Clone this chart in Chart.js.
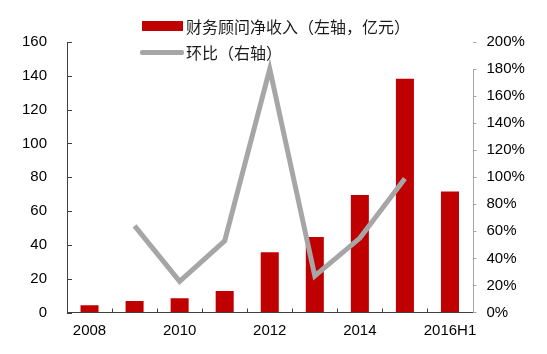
<!DOCTYPE html>
<html>
<head>
<meta charset="utf-8">
<script src="https://cdn.jsdelivr.net/npm/chart.js@4/dist/chart.umd.min.js"></script>
<style>
  html, body { margin: 0; padding: 0; background: #fff; }
  #wrap { position: relative; width: 547px; height: 354px; }
  #legend { position: absolute; left: 140px; top: 13px; font-family: "Noto Sans CJK SC", sans-serif; font-size: 16px; color: #1a1a1a; }
  .item { position: relative; height: 26px; line-height: 26px; white-space: nowrap; }
  .sw { position: absolute; left: 2px; }
  .txt { position: absolute; left: 46px; top: 0; }
</style>
</head>
<body>
<div id="wrap">
  <canvas id="c" width="547" height="354"></canvas>
  <div id="legend"></div>
</div>
<script>
const categories = ['2008', '2009', '2010', '2011', '2012', '2013', '2014', '2015', '2016H1'];
const advisoryIncome = [4.3, 6.8, 8.4, 12.7, 35.7, 44.7, 69.5, 138.2, 71.6];
const growthPct = [null, 64, 23, 53, 180, 27, 55, 99, null];
const leftTicks = [0, 20, 40, 60, 80, 100, 120, 140, 160];
const rightTicks = [0, 20, 40, 60, 80, 100, 120, 140, 160, 180, 200];
const barLabel = '财务顾问净收入（左轴，亿元）';
const lineLabel = '环比（右轴）';

const BAR_COLOR = '#C00000';
const LINE_COLOR = '#A6A6A6';
const FONT = { family: '"Liberation Sans", Arial, sans-serif', size: 15 };

const innerTicks = {
  id: 'innerTicks',
  afterDraw(chart) {
    const ctx = chart.ctx;
    const a = chart.chartArea;
    const y = chart.scales.y, y1 = chart.scales.y1, x = chart.scales.x;
    ctx.save();
    ctx.lineWidth = 1;
    // left axis inward ticks
    ctx.strokeStyle = '#404040';
    y.ticks.forEach(t => {
      const py = Math.round(y.getPixelForValue(t.value)) + 0.5;
      ctx.beginPath(); ctx.moveTo(a.left, py); ctx.lineTo(a.left + 5, py); ctx.stroke();
    });
    // x axis inward ticks at category boundaries
    for (let i = 0; i < categories.length - 1; i++) {
      const px = Math.round((x.getPixelForValue(i) + x.getPixelForValue(i + 1)) / 2) + 0.5;
      ctx.beginPath(); ctx.moveTo(px, a.bottom); ctx.lineTo(px, a.bottom - 4); ctx.stroke();
    }
    // right axis line (from 180% down)
    ctx.strokeStyle = LINE_COLOR;
    const rx = Math.round(a.right) + 0.5;
    ctx.beginPath(); ctx.moveTo(rx, y1.getPixelForValue(180)); ctx.lineTo(rx, a.bottom); ctx.stroke();
    ctx.restore();
  }
};

const chart = new Chart(document.getElementById('c'), {
  type: 'bar',
  data: {
    labels: categories,
    datasets: [
      {
        type: 'line',
        label: lineLabel,
        data: growthPct,
        yAxisID: 'y1',
        borderColor: LINE_COLOR,
        backgroundColor: LINE_COLOR,
        borderWidth: 5,
        pointRadius: 0,
        tension: 0,
        borderJoinStyle: 'miter',
        order: 0
      },
      {
        type: 'bar',
        label: barLabel,
        data: advisoryIncome,
        yAxisID: 'y',
        backgroundColor: BAR_COLOR,
        categoryPercentage: 1,
        barPercentage: 0.4,
        order: 1
      }
    ]
  },
  options: {
    responsive: false,
    animation: false,
    layout: { padding: { top: 42, left: 0, right: 0, bottom: 0 } },
    plugins: { legend: { display: false }, tooltip: { enabled: false } },
    scales: {
      x: {
        offset: true,
        grid: { display: true, offset: true, drawOnChartArea: false, drawTicks: false },
        border: { display: true, color: '#404040', width: 1 },
        ticks: {
          autoSkip: false, maxRotation: 0, padding: 9, color: '#000', font: FONT,
          callback: (v, i) => (i % 2 === 0 ? categories[i] : '')
        },
        afterFit: s => { s.height = 41.5; }
      },
      y: {
        position: 'left',
        min: 0, max: 160,
        afterBuildTicks: s => { s.ticks = leftTicks.map(v => ({ value: v })); },
        grid: { drawOnChartArea: false, drawTicks: false },
        border: { display: true, color: '#404040', width: 1 },
        ticks: { padding: 20, color: '#000', font: FONT },
        afterFit: s => { s.width = 67; }
      },
      y1: {
        position: 'right',
        min: 0, max: 200,
        afterBuildTicks: s => { s.ticks = rightTicks.map(v => ({ value: v })); },
        grid: { drawOnChartArea: false, drawTicks: true, tickLength: 4, color: LINE_COLOR },
        border: { display: false },
        ticks: { padding: 10, color: '#000', font: FONT, callback: v => v + '%' },
        afterFit: s => { s.width = 74.5; }
      }
    }
  },
  plugins: [innerTicks]
});

// HTML legend built from the datasets (bar first, then line)
const legend = document.getElementById('legend');
[chart.data.datasets[1], chart.data.datasets[0]].forEach(ds => {
  const item = document.createElement('div');
  item.className = 'item';
  const sw = document.createElement('span');
  sw.className = 'sw';
  if (ds.type === 'bar') {
    sw.style.cssText = 'top:8px;width:41px;height:10px;background:' + ds.backgroundColor;
  } else {
    sw.style.cssText = 'top:11px;width:44px;height:5px;left:0;border-radius:2px;background:' + ds.borderColor;
  }
  const tx = document.createElement('span');
  tx.className = 'txt';
  tx.textContent = ds.label;
  item.appendChild(sw);
  item.appendChild(tx);
  legend.appendChild(item);
});
</script>
</body>
</html>
